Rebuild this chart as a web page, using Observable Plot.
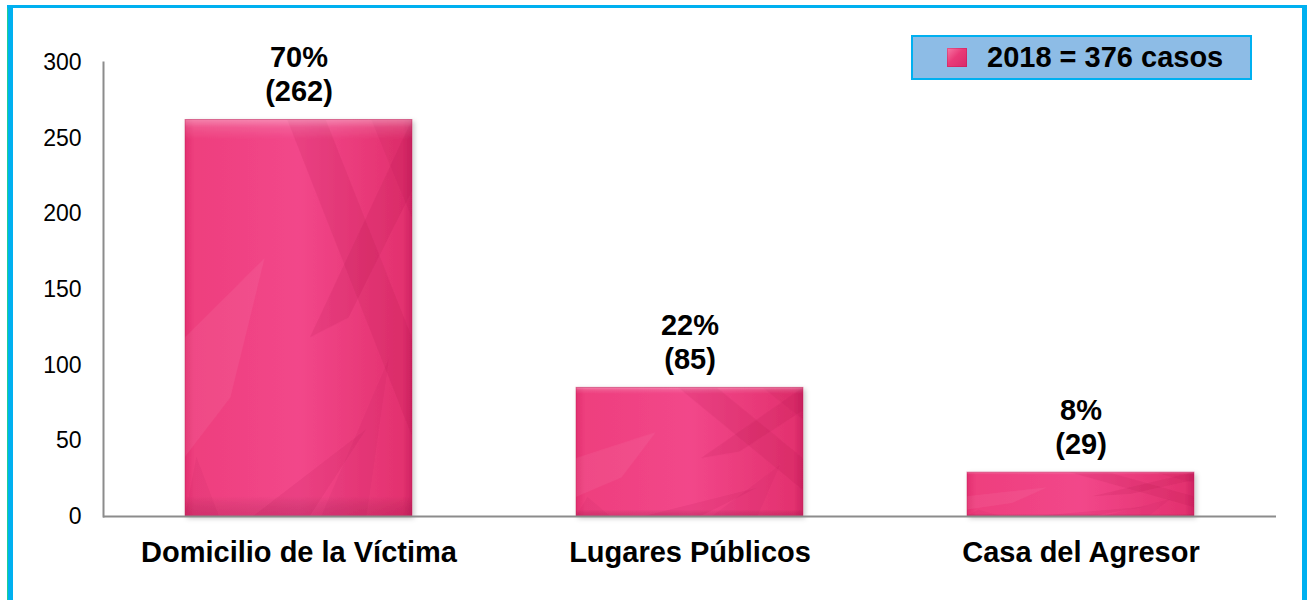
<!DOCTYPE html>
<html>
<head>
<meta charset="utf-8">
<script src="https://cdn.jsdelivr.net/npm/d3@7"></script>
<script src="https://cdn.jsdelivr.net/npm/@observablehq/plot@0.6"></script>
<style>
html,body{margin:0;padding:0;background:#fff;}
body{width:1307px;height:600px;position:relative;overflow:hidden;font-family:"Liberation Sans",Arial,sans-serif;}
#chart{position:absolute;left:0;top:0;}
#frame{position:absolute;left:7px;top:5px;width:1300px;height:640px;box-sizing:border-box;
  border-left:6px solid #00b0f0;border-top:3px solid #00b0f0;border-right:5px solid #00b0f0;pointer-events:none;}
#frame::before{content:"";position:absolute;left:-6px;top:0;width:1px;height:100%;background:#1ccf95;}
#legend{position:absolute;left:911px;top:35px;width:341px;height:45px;box-sizing:border-box;
  background:#8dbce6;border:2px solid #00b0f0;display:flex;align-items:center;}
#legend .sw{width:20px;height:19px;margin-left:34px;margin-right:20px;
  background:linear-gradient(135deg,#f77aa6 0%,#ea3a78 45%,#d8286a 100%);box-shadow:inset 0 0 0 1px rgba(190,20,80,0.35);}
#legend .lbl{font-size:29px;font-weight:bold;color:#000;line-height:1;}
</style>
</head>
<body>
<div id="chart"></div>
<div id="legend"><div class="sw"></div><div class="lbl"></div></div>
<div id="frame"></div>
<script>
const categories = ["Domicilio de la Víctima", "Lugares Públicos", "Casa del Agresor"];
const cases = [262, 85, 29];
const percents = ["70%", "22%", "8%"];
const yTicks = [0, 50, 100, 150, 200, 250, 300];
const legendLabel = "2018 = 376 casos";

const data = categories.map((c, i) => ({
  category: c,
  value: cases[i],
  pct: percents[i],
  count: `(${cases[i]})`
}));

const font = '"Liberation Sans", Arial, sans-serif';

const chart = Plot.plot({
  width: 1307,
  height: 600,
  marginLeft: 103,
  marginRight: 31,
  marginTop: 62,
  marginBottom: 84,
  style: {fontFamily: font, background: "transparent", color: "#000", overflow: "visible"},
  x: {domain: categories, paddingInner: 0.42, paddingOuter: 0.21, label: null},
  y: {domain: [0, 300], label: null},
  marks: [
    Plot.barY(data, {x: "category", y: "value", fill: "url(#barFill)", stroke: "#c01a56", strokeOpacity: 0.45, strokeWidth: 1}),
    Plot.frame({anchor: "left", stroke: "#8c8c8c", strokeWidth: 2}),
    Plot.ruleY([0], {stroke: "#8c8c8c", strokeWidth: 2}),
    Plot.axisY({ticks: yTicks, tickSize: 0, tickPadding: 22, fontSize: 23, tickFormat: d => String(d), label: null, fill: "#000"}),
    Plot.axisX({tickSize: 0, tickPadding: 25, fontSize: 29, fontWeight: "bold", label: null, fill: "#000"}),
    Plot.text(data, {x: "category", y: "value", text: "count", dy: -28, lineAnchor: "middle", fontSize: 29, fontWeight: "bold", fill: "#000"}),
    Plot.text(data, {x: "category", y: "value", text: "pct", dy: -62, lineAnchor: "middle", fontSize: 29, fontWeight: "bold", fill: "#000"})
  ]
});

// decorative fill for the bars (gradient + translucent facets, like the original's texture)
const svg = d3.select(chart);
const defs = svg.insert("defs", ":first-child");
const lg = defs.append("linearGradient").attr("id", "barGrad").attr("x1", 0).attr("x2", 1).attr("y1", 0).attr("y2", 0);
[["0", "#e23070"], ["0.04", "#ee3f7e"], ["0.5", "#f2478a"], ["0.96", "#e3316f"], ["1", "#cf2463"]]
  .forEach(([o, c]) => lg.append("stop").attr("offset", o).attr("stop-color", c));
const vg = defs.append("linearGradient").attr("id", "barGradV").attr("x1", 0).attr("x2", 0).attr("y1", 0).attr("y2", 1);
[["0", "#ffffff", 0.35], ["0.02", "#ffffff", 0.12], ["0.05", "#ffffff", 0], ["0.95", "#000000", 0], ["1", "#700030", 0.18]]
  .forEach(([o, c, a]) => vg.append("stop").attr("offset", o).attr("stop-color", c).attr("stop-opacity", a));
const pat = defs.append("pattern").attr("id", "barFill")
  .attr("patternUnits", "objectBoundingBox").attr("patternContentUnits", "objectBoundingBox")
  .attr("width", 1).attr("height", 1);
pat.append("rect").attr("width", 1).attr("height", 1).attr("fill", "url(#barGrad)");
const facets = [
  ["0.45,0 0.62,0 1,0.55 1,0.8", "#a80c45", 0.13],
  ["0.55,0.55 1,0 1,0.18 0.72,0.5", "#a80c45", 0.12],
  ["0.82,0 1,0 1,0.25", "#a80c45", 0.1],
  ["0.3,1 0.8,0.78 0.55,1", "#a80c45", 0.1],
  ["0.6,1 0.9,0.6 0.8,1", "#a80c45", 0.08],
  ["0,0.55 0.35,0.35 0.2,0.7 0,0.85", "#ffffff", 0.06],
  ["0,1 0.05,0.85 0.15,1", "#a80c45", 0.08]
];
facets.forEach(([p, c, a]) => pat.append("polygon").attr("points", p).attr("fill", c).attr("fill-opacity", a));
pat.append("rect").attr("width", 1).attr("height", 1).attr("fill", "url(#barGradV)");
const f = defs.append("filter").attr("id", "barShadow").attr("x", "-5%").attr("y", "-5%").attr("width", "115%").attr("height", "115%");
f.append("feDropShadow").attr("dx", 2).attr("dy", 2).attr("stdDeviation", 2.5).attr("flood-color", "#000").attr("flood-opacity", 0.22);
svg.selectAll("g[aria-label='bar']").attr("filter", "url(#barShadow)");

document.getElementById("chart").appendChild(chart);
document.querySelector("#legend .lbl").textContent = legendLabel;
</script>
</body>
</html>
